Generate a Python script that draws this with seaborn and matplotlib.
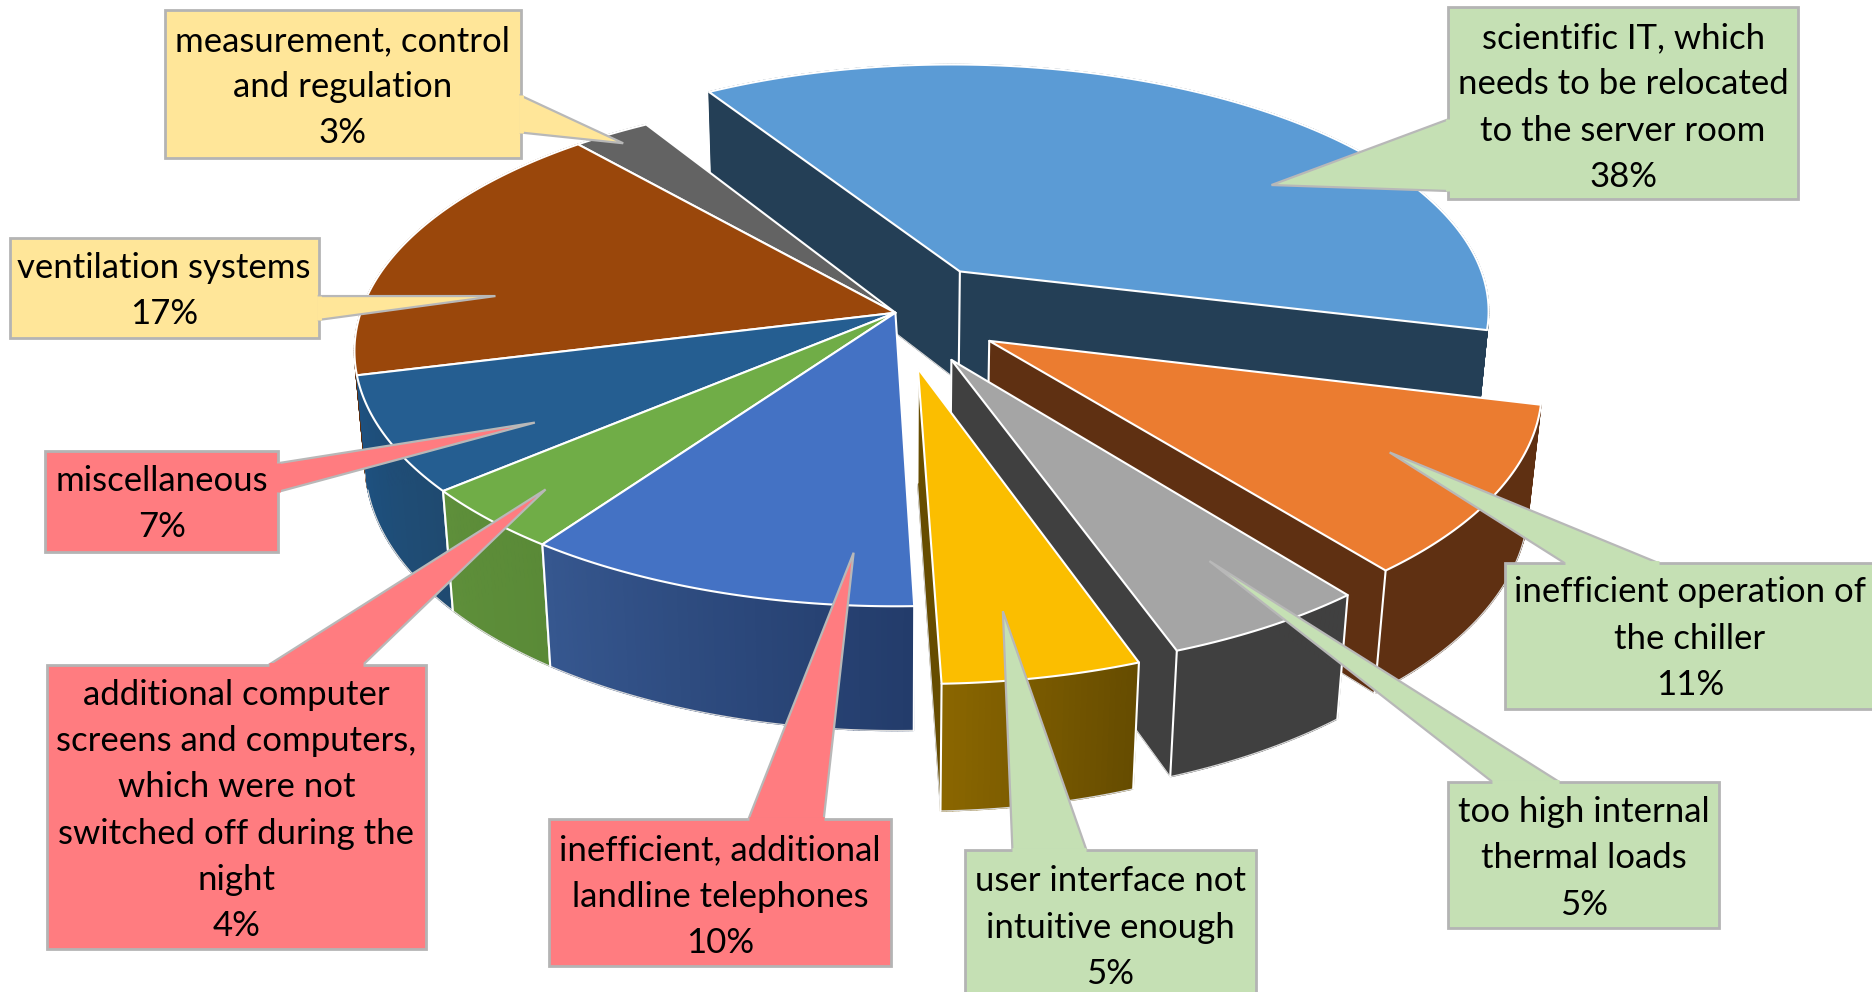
import numpy as np
import matplotlib
matplotlib.use("Agg")
import matplotlib.pyplot as plt
import seaborn as sns

sns.set_theme(style="white")
plt.rcParams['font.family'] = ['Lato', 'DejaVu Sans']

# ---- data (clockwise from the largest slice); shown rounded in the labels ----
names = ["scientific", "chiller", "loads", "interface", "telephones",
         "screens", "misc", "ventilation", "measurement"]
values = [37.64, 10.5, 5.22, 4.97, 10.31, 4.0, 7.28, 17.41, 2.67]
explode = [0.21, 0.205, 0.21, 0.22, 0, 0, 0, 0, 0]
top_colors = ["#5B9BD5", "#EB7C30", "#A5A5A5", "#FBBE00", "#4472C4",
              "#70AD47", "#255E91", "#9A470B", "#636363"]
wall_a = ["#243F56", "#5F3012", "#404040", "#8A6600", "#36578F",
          "#5E8F3A", "#1E5180", "#5F2B08", "#3C3C3C"]
wall_b = ["#243F56", "#5F3012", "#404040", "#664C00", "#233C6B",
          "#5A8A37", "#1F4A70", "#5F2B08", "#3C3C3C"]
draw_order = [0, 8, 7, 6, 5, 4, 1, 2, 3]

labels = [
    "scientific IT, which\nneeds to be relocated\nto the server room\n38%",
    "inefficient operation of\nthe chiller\n11%",
    "too high internal\nthermal loads\n5%",
    "user interface not\nintuitive enough\n5%",
    "inefficient, additional\nlandline telephones\n10%",
    "additional computer\nscreens and computers,\nwhich were not\nswitched off during the\nnight\n4%",
    "miscellaneous\n7%",
    "ventilation systems\n17%",
    "measurement, control\nand regulation\n3%",
]
GREEN, RED, YELLOW = "#C5E0B4", "#FF7C80", "#FFE699"
label_fill = [GREEN, GREEN, GREEN, GREEN, RED, RED, RED, YELLOW, YELLOW]
# box: left, top, right, bottom; tail: two base points and the tip
label_box = [(1213, 6, 1506, 167), (1261, 472, 1570, 594), (1213, 655, 1440, 777),
             (808, 712, 1052, 838), (460, 686, 746, 809), (39, 557, 357, 795),
             (38, 378, 233, 462), (8, 199, 267, 283), (138, 8, 436, 132)]
label_tail = [((1213, 100), (1213, 160), (1065, 155)),
              ((1311, 472), (1390, 472), (1164, 379)),
              ((1250, 655), (1306, 655), (1013, 470)),
              ((848, 712), (910, 712), (840, 512)),
              ((627, 686), (690, 686), (715, 463)),
              ((225, 557), (304, 557), (457, 410)),
              ((233, 388), (233, 412), (448, 354)),
              ((267, 248), (267, 268), (415, 248)),
              ((436, 80), (436, 111), (522, 120))]
label_y = [90, 535, 719, 777, 751, 679, 422, 244, 73]

# ---- projection of the 3-D pie ----
CX, CY = 750, 262
A, B, K = 448, 209, 0.15
D, M = 95.5, 0.02
START = 148.3


def project(X, Y, z=0.0):
    w = 1 - K * np.asarray(Y) + M * z
    return CX + A * np.asarray(X) / w, CY + (B * np.asarray(Y) + D * z) / w


fig = plt.figure(figsize=(18.72, 9.92), dpi=100)
ax = fig.add_axes([0, 0, 1, 1])
ax.set_xlim(0, 1568)
ax.set_ylim(831, 0)
ax.set_axis_off()

angles = START + np.concatenate([[0], np.cumsum(values)]) * 3.6
layer = iter(range(10, 100000))
EDGE = dict(color="white", lw=1.5, solid_joinstyle="round")

for i in draw_order:
    a0, a1 = angles[i], angles[i + 1]
    mid = np.radians((a0 + a1) / 2)
    ox, oy = -np.sin(mid) * explode[i], np.cos(mid) * explode[i]
    t = np.radians(np.linspace(a0, a1, max(int(a1 - a0) * 2, 12)))
    rx, ry = ox - np.sin(t), oy + np.cos(t)

    tx, ty = project(rx, ry, 0)
    bx, by = project(rx, ry, 1)
    apx, apy = project(ox, oy, 0)
    abx, aby = project(ox, oy, 1)
    mx, my = tx[len(t) // 2], ty[len(t) // 2]

    # rounded outer face, shaded in thin strips
    shades = sns.blend_palette([wall_a[i], wall_b[i]], len(t) - 1)
    for s in range(len(t) - 1):
        # the front of the pie runs right to left with rising angle
        ax.fill([tx[s], tx[s + 1], bx[s + 1], bx[s]],
                [ty[s], ty[s + 1], by[s + 1], by[s]],
                color=shades[len(t) - 2 - s], lw=1.0, zorder=next(layer))
    ax.plot(bx, by, color="#D9D9D9", lw=0.9, zorder=next(layer))

    # cut faces, only where the wall hangs outside the top face
    for j in (0, -1):
        ex, ey = tx[j] - apx, ty[j] - apy
        inner = ex * (my - apy) - ey * (mx - apx)
        if ex * inner < 0:
            ax.fill([apx, tx[j], bx[j], abx], [apy, ty[j], by[j], aby],
                    color=wall_a[i] if j == 0 else wall_b[i], lw=0.5,
                    zorder=next(layer))
            ax.plot([abx, bx[j]], [aby, by[j]], color="#D9D9D9", lw=0.8,
                    zorder=next(layer))
    if explode[i] > 0:
        ax.plot([apx, abx], [apy, aby], zorder=next(layer), **EDGE)
    # white corner lines only where the corner faces the viewer
    for j in (0, -1):
        if np.cos(t[j]) > 0.5:
            ax.plot([tx[j], bx[j]], [ty[j], by[j]], zorder=next(layer), **EDGE)

    # top face
    ax.fill(np.r_[apx, tx], np.r_[apy, ty], facecolor=top_colors[i],
            edgecolor="white", lw=1.5, joinstyle="round", zorder=next(layer))

# ---- callouts ----
for text, fill, (l, t_, r, b_), tail, ty_ in zip(labels, label_fill, label_box,
                                                 label_tail, label_y):
    (p0, p1, tip) = tail
    z = next(layer)
    ax.fill([l, r, r, l], [t_, t_, b_, b_], facecolor=fill, edgecolor="#B4B4B4",
            lw=2, zorder=z)
    ax.fill([p0[0], tip[0], p1[0]], [p0[1], tip[1], p1[1]], facecolor=fill,
            edgecolor="#B8B8B8", lw=1.6, joinstyle="miter", zorder=z + 0.1)
    ax.plot([p0[0], p1[0]], [p0[1], p1[1]], color=fill, lw=3.5,
            solid_capstyle="butt", zorder=z + 0.2)
    ax.text((l + r) / 2, ty_, text, ha="center", va="center",
            fontsize=25, color="black", linespacing=1.55, zorder=z + 0.3)

fig.savefig("out.png", dpi=100)
